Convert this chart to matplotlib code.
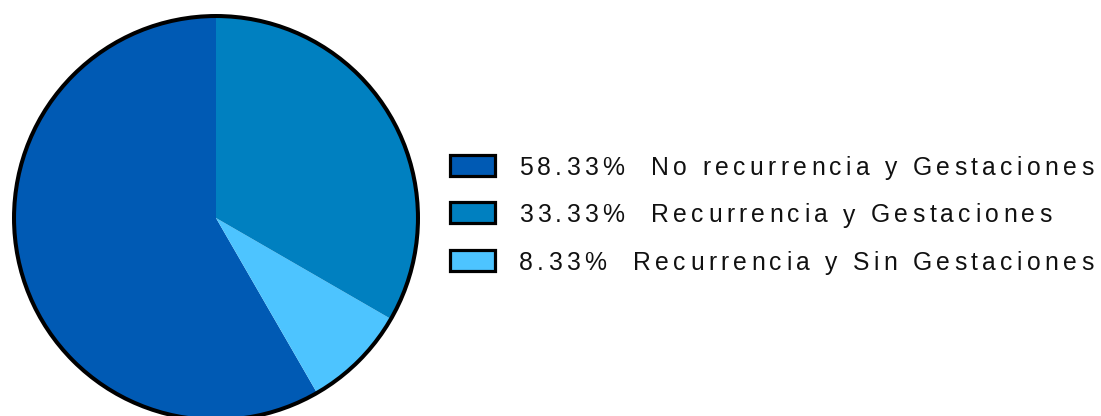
import matplotlib
matplotlib.use("Agg")
import matplotlib.pyplot as plt
from matplotlib.patches import Circle, Rectangle
from matplotlib.font_manager import FontProperties, findfont, get_font

# ------------------------------------------------------------
# Data
# ------------------------------------------------------------
labels = [
    "No recurrencia y Gestaciones",
    "Recurrencia y Gestaciones",
    "Recurrencia y Sin Gestaciones",
]
values = [58.33, 33.33, 8.33]
colors = ["#005AB4", "#0080C0", "#4DC4FF"]

# drawing order around the pie (counter-clockwise from the top)
pie_order = [0, 2, 1]

W, H, DPI = 1101, 416, 100
fig = plt.figure(figsize=(W / DPI, H / DPI), dpi=DPI)

# ------------------------------------------------------------
# Pie
# ------------------------------------------------------------
cx, cy, r = 216, 218, 204
ax = fig.add_axes([(cx - r) / W, (H - cy - r) / H, 2 * r / W, 2 * r / H])
ax.pie([values[i] for i in pie_order],
       colors=[colors[i] for i in pie_order],
       startangle=90, counterclock=True,
       wedgeprops=dict(linewidth=0))
ax.add_patch(Circle((0, 0), 1.0, fill=False, edgecolor="black", linewidth=2.9))
ax.set_xlim(-1.01, 1.01)
ax.set_ylim(-1.01, 1.01)
ax.set_aspect("equal")
ax.axis("off")

# ------------------------------------------------------------
# Legend (letter-spaced text, pixel coordinates)
# ------------------------------------------------------------
lg = fig.add_axes([0, 0, 1, 1])
lg.set_xlim(0, W)
lg.set_ylim(H, 0)
lg.axis("off")

fsize = 17.8
tracking = 4.3
prop = FontProperties(family="Liberation Sans", size=fsize)
font = get_font(findfont(prop))
font.set_size(fsize, DPI)


def advance(ch):
    g = font.load_char(ord(ch))
    return g.linearHoriAdvance / 65536.0


row_y = [165, 212.5, 260]
for i, (lab, val, col) in enumerate(zip(labels, values, colors)):
    y = row_y[i]
    lg.add_patch(Rectangle((449.5, y - 10.5), 45, 21, facecolor=col,
                           edgecolor="black", linewidth=2.3))
    text = f"{val:.2f}%  {lab}"
    x = 519
    for ch in text:
        if ch != " ":
            lg.text(x, y + 10, ch, fontproperties=prop, color="#111111",
                    ha="left", va="baseline")
        x += advance(ch) + tracking

fig.savefig("out.png", dpi=DPI)
